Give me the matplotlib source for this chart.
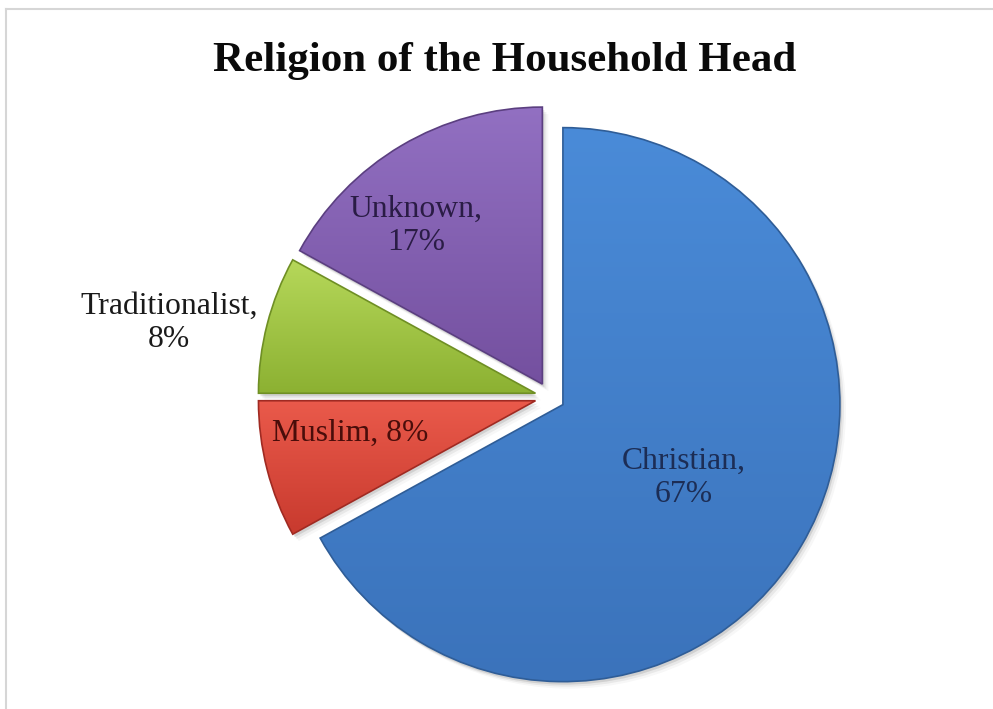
import numpy as np
import matplotlib
matplotlib.use("Agg")
import matplotlib.pyplot as plt
from matplotlib.colors import LinearSegmentedColormap
from matplotlib.lines import Line2D
from matplotlib.patches import Wedge

# religion of the household head, share of households (%)
religions = ["Christian", "Muslim", "Traditionalist", "Unknown"]
shares = [67, 8, 8, 17]

# slice fills: light (top) and dark (bottom) ends of each gradient
FILL_LIGHT = ["#4a8bd8", "#ea5a4b", "#b6d85a", "#9270c2"]
FILL_DARK = ["#3b73bb", "#c83a2e", "#8cb132", "#74509f"]
EDGES = ["#2f5d97", "#a02a22", "#6f8f24", "#5b3f80"]
LABEL_INK = ["#1c2d55", "#4a0d0a", "#1a1a1a", "#2a1c45"]

W, H = 993, 709
SERIF = "Liberation Serif"
RADIUS = 277

fig = plt.figure(figsize=(W / 100, H / 100), dpi=100)
fig.patch.set_facecolor("white")
ax = fig.add_axes([0, 0, 1, 1])

# pie() offsets exploded wedges in data units, so give the gap in pixels
wedges, _ = ax.pie(shares, explode=[15] * len(shares), startangle=90,
                   counterclock=False, radius=RADIUS, center=(550, 312),
                   frame=True)
ax.set_aspect("auto")
ax.axis("off")

# soft drop shadow, gradient fill and thin edge for every slice
for i, w in enumerate(wedges):
    w.set_facecolor("none")
    w.set_edgecolor(EDGES[i])
    w.set_linewidth(1.2)
    w.set_zorder(3)

    for k, a in enumerate([0.10, 0.06, 0.03]):
        sh = Wedge((w.center[0] + 2 + k * 2, w.center[1] - 3 - k * 2), w.r,
                   w.theta1, w.theta2, facecolor="#000000", alpha=a,
                   edgecolor="none", zorder=1)
        ax.add_patch(sh)

    bb = w.get_path().get_extents(w.get_patch_transform())
    cmap = LinearSegmentedColormap.from_list(
        f"g{i}", [FILL_DARK[i], FILL_LIGHT[i]])
    grad = np.linspace(0, 1, 256).reshape(-1, 1)
    im = ax.imshow(grad, cmap=cmap, origin="lower", aspect="auto",
                   extent=(bb.x0, bb.x1, bb.y0, bb.y1), zorder=2,
                   interpolation="bilinear")
    im.set_clip_path(w)

ax.set_xlim(0, W)
ax.set_ylim(0, H)

# data labels
label_pos = [(684, 231), (350, 276), (169, 386), (416, 483)]
for i, (name, val) in enumerate(zip(religions, shares)):
    sep = " " if name == "Muslim" else "\n"
    ax.text(*label_pos[i], f"{name},{sep}{val}%", ha="center", va="center",
            fontsize=22.8, family=SERIF, color=LABEL_INK[i],
            linespacing=1.22, zorder=5)

fig.text(505 / W, 1 - 71 / H, "Religion of the Household Head",
         ha="center", va="baseline", fontsize=31, fontweight="bold",
         family=SERIF, color="#0a0a0a")

# chart-area frame (top and left edges)
fig.add_artist(Line2D([6 / W, 1], [1 - 9 / H] * 2, color="#d6d6d6", lw=1.5))
fig.add_artist(Line2D([6 / W] * 2, [0, 1 - 9 / H], color="#d6d6d6", lw=1.5))

fig.savefig("out.png", dpi=100)
